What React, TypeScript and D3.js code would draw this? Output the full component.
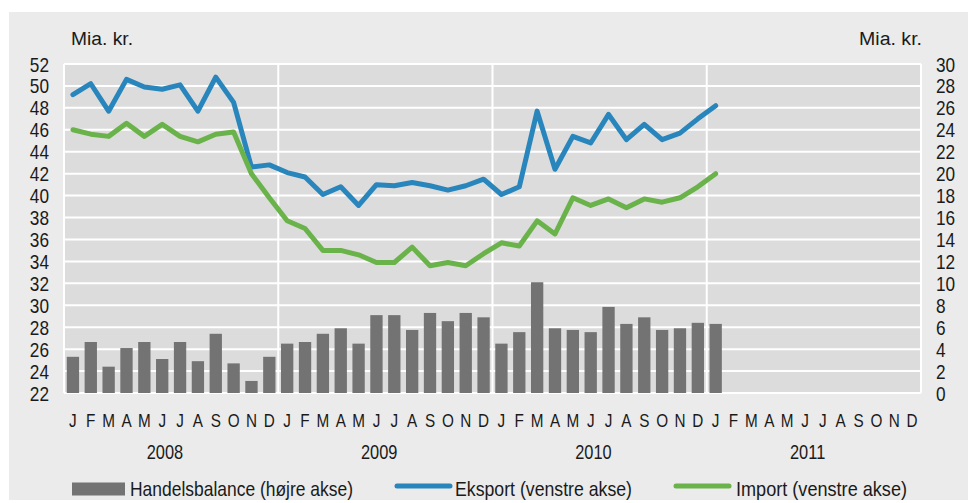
import React, { useMemo } from 'react';
import * as d3 from 'd3';

// month letters and years on the x axis
const monthLetters = ['J', 'F', 'M', 'A', 'M', 'J', 'J', 'A', 'S', 'O', 'N', 'D'];
const years = ['2008', '2009', '2010', '2011'];

// values from Jan 2008 to Jan 2011, mia. kr.
const handelsbalance = [
  3.3, 4.65, 2.4, 4.1, 4.65, 3.1, 4.65, 2.9, 5.4, 2.7, 1.1, 3.3,
  4.5, 4.65, 5.4, 5.9, 4.5, 7.1, 7.1, 5.75, 7.3, 6.55, 7.3, 6.9,
  4.5, 5.55, 10.1, 5.9, 5.75, 5.55, 7.85, 6.3, 6.9, 5.75, 5.9, 6.4,
  6.3,
];
const eksport = [
  49.2, 50.2, 47.7, 50.6, 49.9, 49.7, 50.1, 47.7, 50.8, 48.5, 42.6, 42.8,
  42.1, 41.7, 40.1, 40.8, 39.1, 41.0, 40.9, 41.2, 40.9, 40.5, 40.9, 41.5,
  40.1, 40.8, 47.7, 42.4, 45.4, 44.8, 47.4, 45.1, 46.5, 45.1, 45.7, 47.0,
  48.2,
];
const importVals = [
  46.0, 45.6, 45.4, 46.6, 45.4, 46.5, 45.4, 44.9, 45.6, 45.8, 42.0, 39.8,
  37.7, 37.0, 35.0, 35.0, 34.6, 33.9, 33.9, 35.3, 33.6, 33.9, 33.6, 34.7,
  35.7, 35.4, 37.7, 36.5, 39.8, 39.1, 39.7, 38.9, 39.7, 39.4, 39.8, 40.8,
  42.0,
];
const leftTicks = d3.range(22, 53, 2);
const rightTicks = d3.range(0, 31, 2);

const legendItems = [
  { label: 'Handelsbalance (højre akse)', type: 'bar', color: '#737373' },
  { label: 'Eksport (venstre akse)', type: 'line', color: '#2886bd' },
  { label: 'Import (venstre akse)', type: 'line', color: '#6ab34b' },
];

const W = 968;
const H = 503;
const FONT = '"Liberation Sans", Arial, sans-serif';
const INK = '#1a1a1a';

// condensed look: squeeze text horizontally around its anchor
const Txt = ({ x, y, size, anchor = 'start', sx = 0.8, len, children }: any) => (
  <g transform={`translate(${x},${y}) scale(${sx},1)`}>
    <text x={0} y={0} fontSize={size} textAnchor={anchor} fill={INK}
      textLength={len ? len / sx : undefined} lengthAdjust={len ? 'spacingAndGlyphs' : undefined}>
      {children}
    </text>
  </g>
);

const App = () => {
  const margin = { top: 64, right: 47, bottom: 110, left: 64 };
  const plotW = W - margin.left - margin.right;
  const plotH = H - margin.top - margin.bottom;

  const { x, yL, yR } = useMemo(() => {
    const nMonths = years.length * 12;
    const x = d3.scaleBand<number>()
      .domain(d3.range(nMonths))
      .range([margin.left, margin.left + plotW])
      .paddingInner(0.31)
      .paddingOuter(0.155);
    const yL = d3.scaleLinear().domain([22, 52]).range([margin.top + plotH, margin.top]);
    const yR = d3.scaleLinear().domain([0, 30]).range([margin.top + plotH, margin.top]);
    return { x, yL, yR };
  }, [plotW, plotH]);

  const cx = (i: number) => (x(i) as number) + x.bandwidth() / 2;
  const step = x.step();
  const x0 = margin.left;
  const line = d3.line<number>().x((d, i) => cx(i)).y(d => yL(d));

  return (
    <svg width={W} height={H} style={{ position: 'absolute', left: 0, top: 0 }} fontFamily={FONT}>
      <rect x={0} y={0} width={W} height={H} fill="#ffffff" />
      <rect x={9} y={12} width={W - 9} height={488} fill="#ebebeb" />
      <rect x={x0} y={margin.top} width={plotW} height={plotH} fill="#dcdcdc" />

      {/* grid */}
      {leftTicks.map(t => (
        <line key={'h' + t} x1={x0} x2={x0 + plotW} y1={yL(t)} y2={yL(t)} stroke="#fff" strokeWidth={2} />
      ))}
      {d3.range(years.length + 1).map(k => (
        <line key={'v' + k} x1={x0 + k * 12 * step} x2={x0 + k * 12 * step}
          y1={margin.top} y2={margin.top + plotH} stroke="#fff" strokeWidth={2} />
      ))}

      {/* bars */}
      {handelsbalance.map((v, i) => (
        <rect key={'b' + i} x={x(i)} y={yR(v)} width={x.bandwidth()} height={yR(0) - yR(v)} fill="#737373" />
      ))}

      <path d={line(eksport) || ''} fill="none" stroke="#2886bd" strokeWidth={5} strokeLinejoin="round" strokeLinecap="round" />
      <path d={line(importVals) || ''} fill="none" stroke="#6ab34b" strokeWidth={5} strokeLinejoin="round" strokeLinecap="round" />

      {/* axes */}
      <Txt x={71} y={45} size={19} len={62}>Mia. kr.</Txt>
      <Txt x={859} y={45} size={19} len={63}>Mia. kr.</Txt>
      {leftTicks.map(t => (
        <Txt key={'l' + t} x={49} y={yL(t) + 7.5} size={21} anchor="end" sx={0.82}>{t}</Txt>
      ))}
      {rightTicks.map(t => (
        <Txt key={'r' + t} x={936} y={yR(t) + 7.5} size={21} sx={0.82}>{t}</Txt>
      ))}
      {years.map((yr, k) => (
        <g key={yr}>
          {monthLetters.map((m, j) => (
            <Txt key={j} x={cx(k * 12 + j)} y={427} size={18} anchor="middle" sx={0.85}>{m}</Txt>
          ))}
          <Txt x={x0 + (k * 12 + 5.65) * step} y={459} size={20} anchor="middle" sx={0.82}>{yr}</Txt>
        </g>
      ))}

      {/* legend */}
      {legendItems.map((it, k) => {
        const lx = [72, 395, 674][k];
        const tx = [130, 455, 736][k];
        const tl = [223, 177, 171][k];
        return (
          <g key={it.label}>
            {it.type === 'bar'
              ? <rect x={lx} y={482.5} width={53} height={13} fill={it.color} />
              : <line x1={lx + 2} x2={lx + 55} y1={486} y2={486} stroke={it.color} strokeWidth={5} strokeLinecap="round" />}
            <Txt x={tx} y={496} size={20.5} len={tl}>{it.label}</Txt>
          </g>
        );
      })}
    </svg>
  );
};

export default App;
